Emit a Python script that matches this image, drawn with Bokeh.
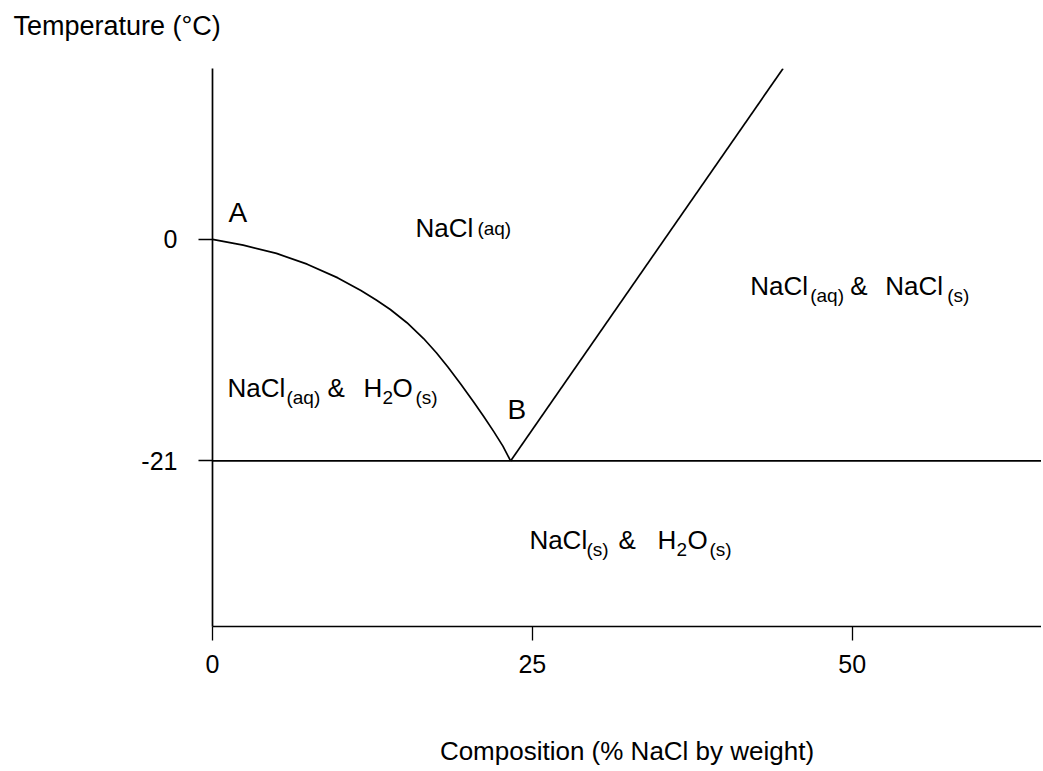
from bokeh.plotting import figure
from bokeh.models import Range1d, FixedTicker, ColumnDataSource, Title
from bokeh.core.properties import value
from bokeh.embed import file_html
from bokeh.resources import INLINE

FONT = "Liberation Sans"

# ---- data ----
# ice liquidus A -> B
ice_x = [0, 2.4, 5.0, 7.4, 9.8, 11.6, 12.8, 13.9, 15.2, 16.5, 17.5, 18.4, 19.4, 20.4, 21.2, 22.0, 22.7, 23.3]
ice_y = [0, -0.55, -1.33, -2.35, -3.65, -4.85, -5.75, -6.65, -7.9, -9.4, -10.75, -12.1, -13.7, -15.4,
         -16.8, -18.25, -19.6, -21]
# salt solubility line from B upward
salt_x = [23.3, 44.6]
salt_y = [-21, 16.2]
# eutectic line
eut_x = [0, 64.8]
eut_y = [-21, -21]

x_ticks = [0, 25, 50]
y_ticks = [-21, 0]
y_tick_text = {-21: "-21", 0: "0"}

# region labels: anchor (data units) and pieces (text, dx px, dy px, size px)
label_x = [1.25, 23.05, 15.86, 1.17, 42.03, 24.77]
label_y = [2.58, -16.15, 1.05, -14.1, -4.43, -28.5]
label_parts = [
    [("A", 0, 0, 28)],
    [("B", 0, 0, 28)],
    [("NaCl", 0, 0, 26), ("(aq)", 62, 0, 19)],
    [("NaCl", 0, 0, 26), ("(aq)", 59, 9, 19), ("&", 100, 0, 26), ("H", 136, 0, 26),
     ("2", 155, 9, 19), ("O", 165, 0, 26), ("(s)", 188, 9, 19)],
    [("NaCl", 0, 0, 26), ("(aq)", 60, 9, 19), ("&", 100, 0, 26), ("NaCl", 135, 0, 26),
     ("(s)", 197, 9, 19)],
    [("NaCl", 0, 0, 26), ("(s)", 57, 9, 19), ("&", 89, 0, 26), ("H", 128, 0, 26),
     ("2", 147, 9, 19), ("O", 158, 0, 26), ("(s)", 180, 9, 19)],
]

y_title = "Temperature (°C)"
x_title = "Composition (% NaCl by weight)"

# ---- figure ----
p = figure(width=1041, height=768, output_backend="svg", toolbar_location=None,
           x_range=Range1d(0, 64.8), y_range=Range1d(-36.7, 16.2),
           min_border_left=212, min_border_right=0, min_border_top=68, min_border_bottom=141)
p.outline_line_color = None
p.grid.visible = False
p.background_fill_color = "white"
p.border_fill_color = "white"

p.title = Title(text=y_title, align="left", offset=-199, standoff=0,
                text_font=FONT, text_font_size="27px", text_font_style="normal",
                text_color="black", vertical_align="bottom")
# spacer between the temperature title and the frame
p.add_layout(Title(text=" ", text_font_size="2px", standoff=24), "above")

LW = 1.7
p.line(ice_x, ice_y, line_color="black", line_width=LW)
p.line(salt_x, salt_y, line_color="black", line_width=LW)
p.line(eut_x, eut_y, line_color="black", line_width=LW)

for ax in (p.xaxis[0], p.yaxis[0]):
    ax.axis_line_width = LW
    ax.axis_line_color = "black"
    ax.major_tick_line_color = "black"
    ax.major_tick_line_width = 1.3
    ax.major_tick_in = 0
    ax.major_tick_out = 14
    ax.minor_tick_line_color = None
    ax.major_label_text_font = FONT
    ax.major_label_text_font_size = "25px"
    ax.major_label_text_color = "black"

p.xaxis.ticker = FixedTicker(ticks=x_ticks)
p.yaxis.ticker = FixedTicker(ticks=y_ticks)
p.yaxis.major_label_overrides = y_tick_text
p.xaxis.major_label_standoff = 14
p.yaxis.major_label_standoff = 21

p.xaxis.axis_label = x_title
p.xaxis.axis_label_text_font = FONT
p.xaxis.axis_label_text_font_size = "26px"
p.xaxis.axis_label_text_font_style = "normal"
p.xaxis.axis_label_text_color = "black"
p.xaxis.axis_label_standoff = 60

# region labels
src = dict(x=[], y=[], text=[], xo=[], yo=[], size=[])
for lx, ly, parts in zip(label_x, label_y, label_parts):
    for t, dx, dy, fs in parts:
        src["x"].append(lx)
        src["y"].append(ly)
        src["text"].append(t)
        src["xo"].append(dx)
        src["yo"].append(dy)
        src["size"].append(f"{fs}px")
p.text(x="x", y="y", text="text", x_offset="xo", y_offset="yo", text_font_size="size",
       text_font=value(FONT), text_baseline="alphabetic", text_align="left",
       text_color="black", source=ColumnDataSource(src))

open("out.html", "w").write(file_html(p, INLINE))
